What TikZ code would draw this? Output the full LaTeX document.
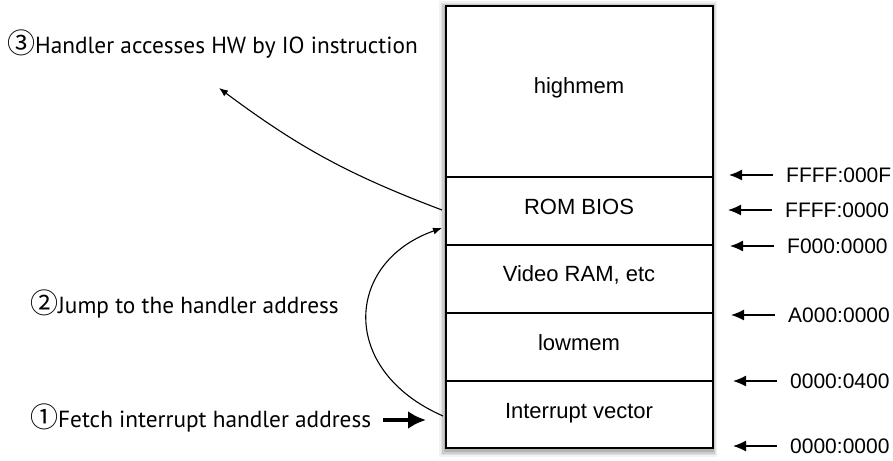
\documentclass[tikz,border=0pt]{standalone}
\usepackage{fontspec}
\setmainfont{Liberation Sans}
\newfontfamily\memfont{Liberation Sans}
\newfontfamily\notefont{PT Sans}
\newfontfamily\cjkfont{Noto Sans CJK JP}
\usetikzlibrary{arrows.meta}
\newcommand\circnum[1]{{\cjkfont\fontsize{28}{30}\selectfont #1}}
\begin{document}
\begin{tikzpicture}[x=1pt,y=1pt,
  memlbl/.style={font=\memfont\fontsize{22}{25}\selectfont, anchor=base, inner sep=0pt},
  addr/.style={font=\memfont\fontsize{21}{25}\selectfont, anchor=west, inner sep=0pt},
  note/.style={font=\notefont\fontsize{23.3}{28}\selectfont, anchor=base west, inner sep=0pt},
  addrarrow/.style={line width=1.3pt, -{Latex[length=13pt,width=11pt]}},
  thinarrow/.style={line width=1.1pt, -{Latex[length=9pt,width=7pt]}},
  fatarrow/.style={line width=4.5pt, -{Latex[length=18pt,width=18pt]}},
  divider/.style={line width=1.3pt},
  frame/.style={line width=2pt}]
\useasboundingbox (0,0) rectangle (893,-460);
% soft shadow
\foreach \s/\o in {7/0.05,5/0.07,3.5/0.09,2/0.12}{
  \fill[black,opacity=\o] (445.5-\s,-6+\s-2) rectangle (712.7+\s*0.6,-448-\s-2);
}
\fill[white] (445.5,-6) rectangle (712.7,-448);
% dividers
\coordinate (L1) at (445.5,-177); \coordinate (R1) at (712.7,-177);
\coordinate (L2) at (445.5,-245); \coordinate (R2) at (712.7,-245);
\coordinate (L3) at (445.5,-313); \coordinate (R3) at (712.7,-313);
\coordinate (L4) at (445.5,-381); \coordinate (R4) at (712.7,-381);
\draw[divider] (L1) -- (R1);
\draw[divider] (L2) -- (R2);
\draw[divider] (L3) -- (R3);
\draw[divider] (L4) -- (R4);
\coordinate (TL) at (445.5,-6); \coordinate (BR) at (712.7,-448);
\draw[frame] (TL) rectangle (BR);
% memory labels
\node[memlbl] (high) at (579,-93) {highmem};
\node[memlbl] (rom) at (579,-214) {ROM BIOS};
\node[memlbl] (vram) at (579,-281) {Video RAM, etc};
\node[memlbl] (low) at (579,-350) {lowmem};
\node[memlbl] (ivec) at (579,-418) {Interrupt vector};
% addresses
\node[addr] (a1) at (786,-175) {FFFF:000F};
\node[addr] (a2) at (785,-210) {FFFF:0000};
\node[addr] (a3) at (787,-246) {F000:0000};
\node[addr] (a4) at (788,-315) {A000:0000};
\node[addr] (a5) at (790,-381) {0000:0400};
\node[addr] (a6) at (790,-446) {0000:0000};
\foreach \a in {a1,a2,a3,a4,a5,a6}{
  \draw[addrarrow] ([xshift=-13pt]\a.west) -- ++(-44,0);
}
% notes
\node[note] (n3) at (7,-53) {\circnum{③}Handler accesses HW by IO instruction};
\node[note] (n2) at (30,-313) {\circnum{②}Jump to the handler address};
\node[note] (n1) at (30,-427) {\circnum{①}Fetch interrupt handler address};
% connectors
\coordinate (fetchTail) at (383,-420);
\coordinate (fetchTip) at (426,-420);
\draw[fatarrow] (fetchTail) -- (fetchTip);
\coordinate (jumpStart) at (443,-416);
\coordinate (jumpEnd) at (442,-228);
\draw[thinarrow] (jumpStart) .. controls (338,-370) and (345,-262) .. (jumpEnd);
\coordinate (ioStart) at (442,-210);
\coordinate (ioEnd) at (219,-88);
\draw[thinarrow] (ioStart) to[bend left=8] (ioEnd);
\end{tikzpicture}
\end{document}
